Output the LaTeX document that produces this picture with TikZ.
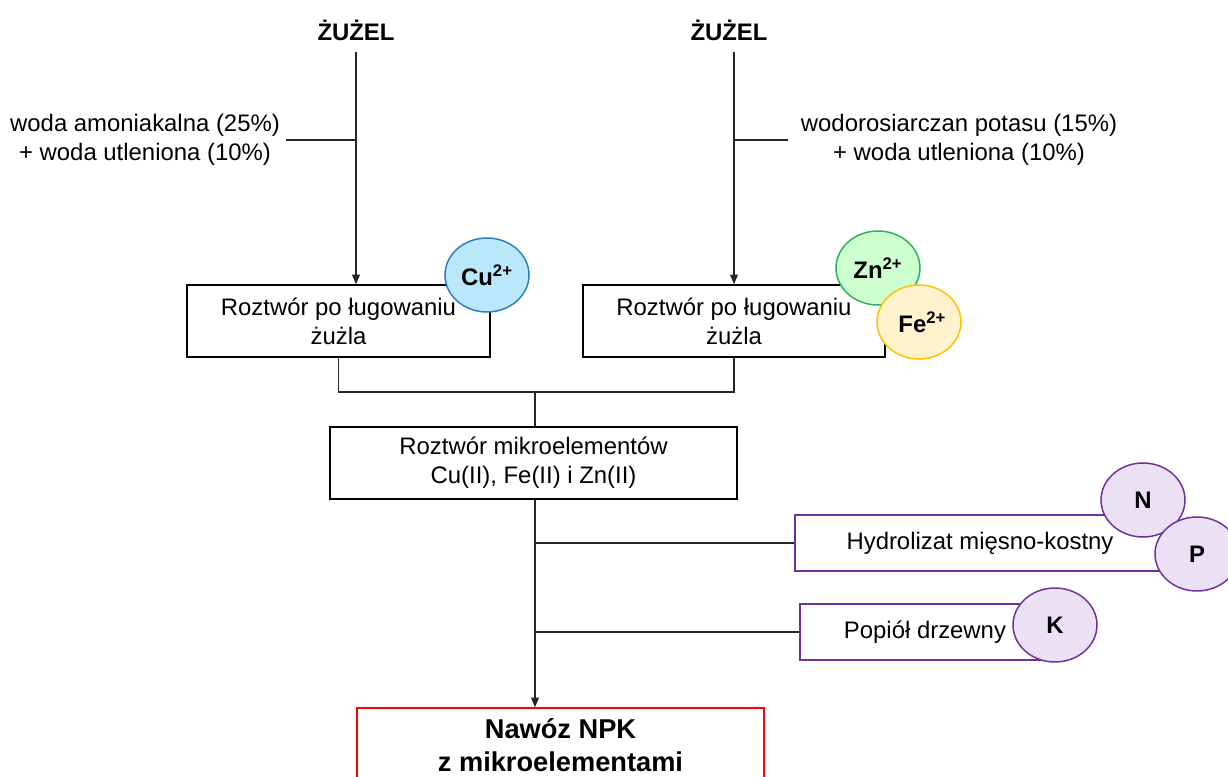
\documentclass[tikz,border=0pt]{standalone}
\usepackage{fontspec}
\setmainfont{Liberation Sans}
\usetikzlibrary{shapes.geometric,arrows.meta}
\definecolor{cuFill}{RGB}{185,232,251}
\definecolor{cuLine}{RGB}{46,126,192}
\definecolor{znFill}{RGB}{206,255,206}
\definecolor{znLine}{RGB}{40,180,90}
\definecolor{feFill}{RGB}{255,242,204}
\definecolor{feLine}{RGB}{255,192,0}
\definecolor{npkFill}{RGB}{234,225,245}
\definecolor{npkLine}{RGB}{112,48,160}

\begin{document}
\begin{tikzpicture}[x=0.02cm, y=-0.02cm,
  font=\fontsize{13.6}{16.5}\selectfont,
  title/.style={font=\fontsize{13.6}{16.5}\selectfont\bfseries},
  box/.style={draw=black, line width=0.85pt, align=center, minimum height=1.44cm},
  feed/.style={draw=npkLine, line width=0.85pt, align=center, minimum height=1.12cm},
  ion/.style={ellipse, line width=0.85pt, minimum width=1.68cm, minimum height=1.48cm, inner sep=0pt, font=\fontsize{13.6}{16.5}\selectfont\bfseries},
  link/.style={draw=black!85, line width=0.6pt},
  arr/.style={-{Triangle[length=5.5pt,width=4.5pt]}}]
\useasboundingbox (0,0) rectangle (1228,777);
\node [title] (zl) at (356,30) {ŻUŻEL};
\node [title] (zr) at (729,30) {ŻUŻEL};
\node [align=center] (la) at (145,140) {woda amoniakalna (25\%)\\+ woda utleniona (10\%)};
\node [align=center] (ra) at (959,140) {wodorosiarczan potasu (15\%)\\+ woda utleniona (10\%)};
\node [box, minimum width=6.06cm] (rl) at (338.5,321) {Roztwór po ługowaniu\\żużla};
\node [box, minimum width=6.04cm] (rr) at (734,321) {Roztwór po ługowaniu\\żużla};
\node [box, minimum width=8.14cm] (mix) at (533.5,463) {Roztwór mikroelementów\\Cu(II), Fe(II) i Zn(II)};
\node [feed, minimum width=7.4cm] (hyd) at (980,543) {Hydrolizat mięsno-kostny};
\node [feed, minimum width=5cm] (ash) at (925,632) {Popiół drzewny};
\node [draw=red, line width=0.85pt, align=center, minimum width=8.14cm, minimum height=1.5cm,
  font=\fontsize{15.5}{18.7}\selectfont\bfseries] (npk) at (560.5,745.5) {Nawóz NPK\\z mikroelementami};
\node [ion, draw=cuLine, fill=cuFill] (cu) at (487,275) {Cu\textsuperscript{2+}};
\node [ion, draw=znLine, fill=znFill] (zn) at (878,268) {Zn\textsuperscript{2+}};
\node [ion, draw=feLine, fill=feFill] (fe) at (919,322) {~Fe\textsuperscript{2+}};
\node [ion, draw=npkLine, fill=npkFill] (n) at (1143,500) {N};
\node [ion, draw=npkLine, fill=npkFill] (p) at (1197,554) {P};
\node [ion, draw=npkLine, fill=npkFill] (k) at (1055,625) {K};
\coordinate (j) at (535,392);
\draw [link, arr, shorten <=3pt] (zl.south) -- (zl.south |- rl.north);
\draw [link, arr, shorten <=3pt] (zr.south -| rr.north) -- (rr.north);
\draw [link] (la.east) -- (la.east -| zl.south);
\draw [link, shorten <=4pt] (ra.west) -- (ra.west -| rr.north);
\draw [link] (rl.south) |- (j) -| (rr.south);
\draw [link] (j) -- (j |- mix.north);
\draw [link, arr] (j |- mix.south) -- (j |- npk.north);
\draw [link] (hyd.west) -- (hyd.west -| j);
\draw [link] (ash.west) -- (ash.west -| j);
\end{tikzpicture}
\end{document}
